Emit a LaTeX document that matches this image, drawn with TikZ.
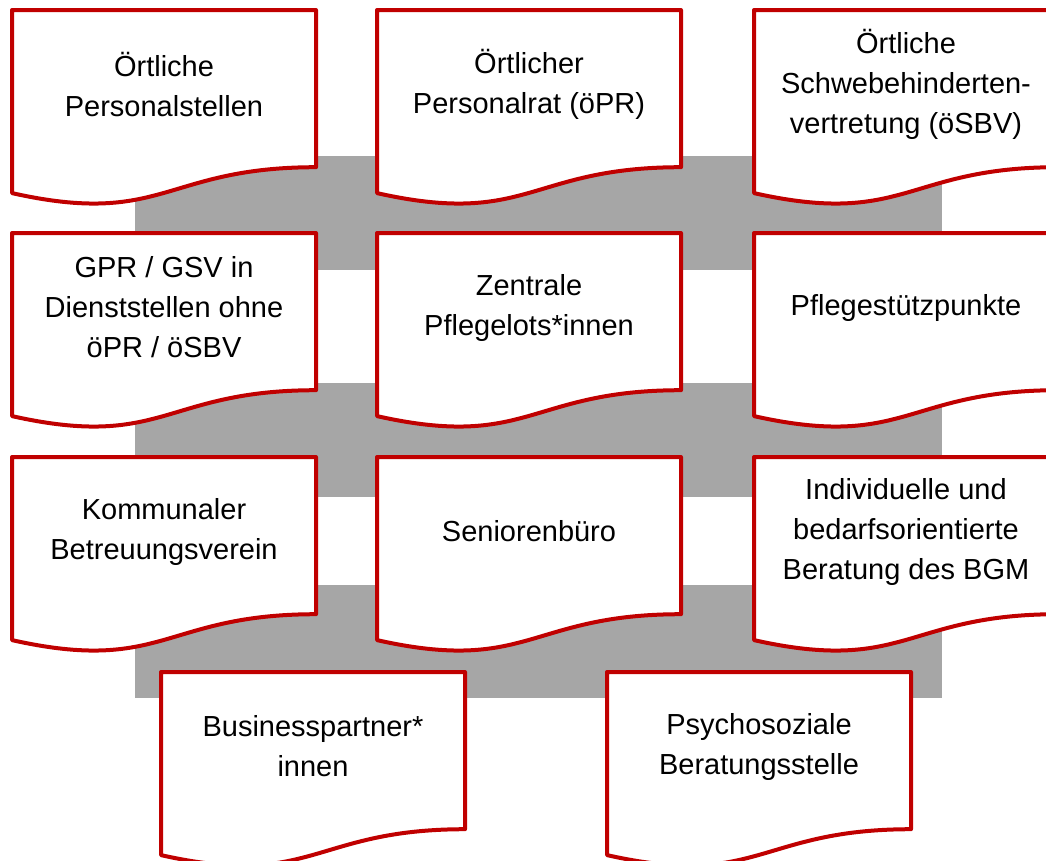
\documentclass[tikz,border=0pt]{standalone}
\usepackage{fontspec}
\setmainfont{Liberation Sans}
\usepackage{tikz}
\usetikzlibrary{calc}
\definecolor{docred}{HTML}{C00000}
\definecolor{bandgray}{HTML}{A6A6A6}
% document box: name, top-left corner, text
\newcommand{\docbox}[3]{%
  \coordinate (#1) at (#2);
  \draw[doc] (#1) -- ($(#1)+(304,0)$) -- ($(#1)+(304,157.2)$)
    .. controls ($(#1)+(152,157.2)$) and ($(#1)+(152,217.1)$) .. ($(#1)+(0,183.1)$) -- cycle;
  \node[lbl] (#1-txt) at ($(#1)+(152,74.5)$) {#3};}

\begin{document}
\begin{tikzpicture}[
  x=1pt, y=-1pt, font=\fontsize{29}{40}\selectfont,
  band/.style={fill=bandgray},
  doc/.style={draw=docred,line width=4pt,line join=round,fill=white},
  lbl/.style={align=center,inner sep=0pt}]
\useasboundingbox (0,0) rectangle (1046,860);
% gray bands behind
\fill[band] (135,156) rectangle (942,270);
\fill[band] (135,383) rectangle (942,497);
\fill[band] (135,585) rectangle (942,698);
% row 1
\docbox{ps}{12,10}{Örtliche\\Personalstellen}
\docbox{pr}{377,10}{Örtlicher\\Personalrat (öPR)}
\docbox{sbv}{754,10}{Örtliche\\Schwebehinderten-\\vertretung (öSBV)}
% row 2
\docbox{gpr}{12,233}{GPR / GSV in\\Dienststellen ohne\\öPR / öSBV}
\docbox{pl}{377,233}{Zentrale\\Pflegelots*innen}
\docbox{sp}{754,233}{Pflegestützpunkte}
% row 3
\docbox{kb}{12,457}{Kommunaler\\Betreuungsverein}
\docbox{sb}{377,457}{Seniorenbüro}
\docbox{bgm}{754,457}{Individuelle und\\bedarfsorientierte\\Beratung des BGM}
% row 4
\docbox{bp}{161,672}{Businesspartner*\\innen}
\docbox{psb}{607,672}{Psychosoziale\\Beratungsstelle}
\end{tikzpicture}
\end{document}
